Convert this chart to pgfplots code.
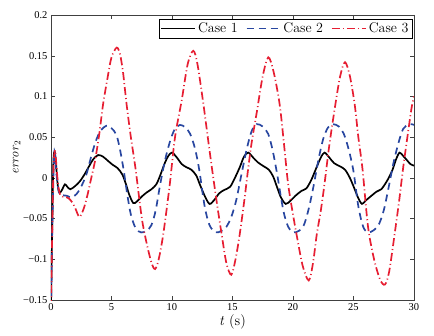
\documentclass[border=0pt]{standalone}
\usepackage{pgfplots}
\pgfplotsset{compat=1.18}
\usepackage{fontspec}
\newfontfamily\tnr{Liberation Serif}
\definecolor{cblue}{RGB}{40,70,160}
\definecolor{cred}{RGB}{230,30,50}
\begin{document}
\begin{tikzpicture}
\begin{axis}[
  scale only axis, width=363bp, height=285bp,
  xmin=0, xmax=30, ymin=-0.15, ymax=0.2,
  xtick={0,5,10,15,20,25,30},
  xticklabels={0,5,10,15,20,25,30},
  ytick={-0.15,-0.1,-0.05,0,0.05,0.1,0.15,0.2},
  yticklabels={−0.15,−0.1,−0.05,0,0.05,0.1,0.15,0.2},
  tick label style={font=\tnr\fontsize{10.5bp}{12bp}\selectfont},
  tick align=inside, major tick length=4bp,
  axis line style={black!75}, every tick/.style={black!75},
  xlabel={\textit{t} (s)},
  xlabel style={font=\fontsize{14.5bp}{16bp}\selectfont, yshift=3bp},
  ylabel={\textit{error}$_2$},
  ylabel style={font=\fontsize{13bp}{15bp}\selectfont, yshift=-4bp},
  legend columns=3,
  legend style={at={(0.995,0.985)}, anchor=north east, draw=black,
    font=\fontsize{14bp}{16bp}\selectfont, inner sep=1.5pt,
    /tikz/every even column/.append style={column sep=6bp}},
  legend image code/.code={\draw[#1] (0cm,0cm) -- (1.2cm,0cm);},
]
\addplot[black, line width=1.7pt, smooth, tension=0.5] coordinates {
(0,-0.16) (0.1,-0.06) (0.2,0.02) (0.3,0.032) (0.4,0.02) (0.55,-0.008) (0.7,-0.018)
(0.9,-0.015) (1.15,-0.008) (1.35,-0.011) (1.6,-0.014) (2.0,-0.01) (2.4,-0.004)
(2.8,0.005) (3.1,0.013) (3.5,0.023) (3.9,0.028) (4.3,0.026) (4.7,0.021) (5.1,0.016)
(5.5,0.012) (5.9,0.004) (6.2,-0.008) (6.45,-0.02) (6.8,-0.031) (7.1,-0.029)
(7.5,-0.023) (7.9,-0.018) (8.3,-0.014) (8.7,-0.008) (9.0,0.002) (9.4,0.018)
(9.7,0.027) (10.0,0.031) (10.4,0.025) (10.8,0.017) (11.2,0.013) (11.6,0.01)
(12.0,0.003) (12.3,-0.008) (12.7,-0.022) (13.1,-0.032) (13.5,-0.027) (13.9,-0.019)
(14.3,-0.015) (14.8,-0.011) (15.2,0.000) (15.6,0.013) (15.95,0.026) (16.3,0.031)
(16.7,0.025) (17.1,0.019) (17.6,0.014) (18.0,0.01) (18.35,0.002) (18.65,-0.01)
(19.0,-0.024) (19.4,-0.032) (19.8,-0.028) (20.2,-0.022) (20.7,-0.016) (21.1,-0.013)
(21.5,-0.003) (21.95,0.013) (22.3,0.025) (22.6,0.031) (23.0,0.025) (23.4,0.018)
(23.9,0.014) (24.3,0.01) (24.7,0.0) (25.1,-0.014) (25.4,-0.025) (25.7,-0.032)
(26.0,-0.028) (26.4,-0.023) (26.9,-0.017) (27.3,-0.014) (27.8,-0.003) (28.2,0.009)
(28.5,0.022) (28.8,0.031) (29.1,0.027) (29.4,0.022) (29.7,0.017) (30,0.015)
};
\addlegendentry{Case 1}
\addplot[cblue, line width=1.7pt, dash pattern=on 7bp off 5bp, smooth, tension=0.5] coordinates {
(0,-0.16) (0.12,-0.05) (0.25,0.025) (0.32,0.03) (0.45,0.005) (0.65,-0.018) (0.9,-0.021)
(1.3,-0.022) (1.7,-0.024) (2.1,-0.02) (2.45,-0.012) (2.9,0.003) (3.3,0.025) (3.7,0.045)
(4.1,0.058) (4.6,0.064) (5.0,0.061) (5.4,0.053) (5.7,0.035) (6.0,0.01) (6.3,-0.02)
(6.6,-0.045) (7.0,-0.062) (7.45,-0.067) (7.9,-0.065) (8.3,-0.058) (8.65,-0.04)
(9.0,-0.01) (9.4,0.02) (9.8,0.043) (10.2,0.059) (10.65,0.065) (11.1,0.062) (11.5,0.054)
(11.9,0.036) (12.25,0.01) (12.7,-0.035) (13.1,-0.058) (13.6,-0.067) (14.1,-0.065)
(14.5,-0.06) (14.9,-0.048) (15.3,-0.028) (15.75,0.005) (16.2,0.037) (16.6,0.058)
(17.0,0.066) (17.5,0.063) (17.95,0.054) (18.3,0.035) (18.65,0.008) (19.2,-0.04)
(19.6,-0.06) (20.0,-0.067) (20.5,-0.065) (20.9,-0.058) (21.3,-0.038) (21.7,-0.01)
(22.1,0.022) (22.5,0.048) (22.9,0.062) (23.3,0.066) (23.8,0.063) (24.2,0.054)
(24.6,0.035) (25.0,0.008) (25.4,-0.035) (25.8,-0.06) (26.2,-0.067) (26.7,-0.064)
(27.1,-0.057) (27.5,-0.04) (27.9,-0.012) (28.3,0.018) (28.7,0.042) (29.1,0.06)
(29.6,0.066) (30,0.065)
};
\addlegendentry{Case 2}
\addplot[cred, line width=1.7pt, dash pattern=on 8bp off 3bp on 1bp off 3bp, smooth, tension=0.5] coordinates {
(0,-0.16) (0.1,-0.07) (0.2,0.01) (0.33,0.034) (0.45,0.015) (0.6,-0.01) (0.8,-0.022)
(1.1,-0.023) (1.45,-0.025) (1.75,-0.03) (2.0,-0.037) (2.35,-0.048) (2.7,-0.038)
(3.0,-0.022) (3.3,-0.002) (3.64,0.021) (4.0,0.055) (4.3,0.09) (4.7,0.125) (5.0,0.148)
(5.43,0.16) (5.7,0.152) (5.95,0.13) (6.25,0.09) (6.6,0.05) (6.98,0.012) (7.5,-0.049)
(7.9,-0.08) (8.3,-0.104) (8.6,-0.112) (8.9,-0.1) (9.28,-0.069) (9.8,-0.01) (10.25,0.05)
(10.8,0.095) (11.3,0.14) (11.76,0.156) (12.1,0.14) (12.6,0.09) (13.0,0.045) (13.3,0.012)
(13.7,-0.03) (14.1,-0.069) (14.5,-0.105) (14.9,-0.119) (15.25,-0.1) (15.6,-0.069)
(16.0,-0.025) (16.3,0.012) (16.6,0.045) (17.0,0.08) (17.5,0.125) (17.96,0.148)
(18.4,0.13) (18.9,0.09) (19.3,0.035) (19.6,-0.008) (20.0,-0.045) (20.3,-0.07)
(20.8,-0.108) (21.3,-0.126) (21.65,-0.105) (21.96,-0.07) (22.3,-0.04) (22.6,-0.008)
(23.0,0.04) (23.5,0.09) (23.9,0.125) (24.3,0.142) (24.7,0.125) (25.1,0.09) (25.4,0.05)
(25.75,0.01) (26.2,-0.06) (26.7,-0.1) (27.2,-0.125) (27.6,-0.131) (27.95,-0.115)
(28.4,-0.069) (28.8,-0.025) (29.1,0.012) (29.5,0.055) (29.8,0.086) (30,0.1)
};
\addlegendentry{Case 3}
\end{axis}
\path (current axis.south west) ++(-51bp,-36bp) coordinate (bbl);
\path (current axis.north east) ++(20bp,15bp) coordinate (btr);
\path (bbl) rectangle (btr);
\end{tikzpicture}
\end{document}
